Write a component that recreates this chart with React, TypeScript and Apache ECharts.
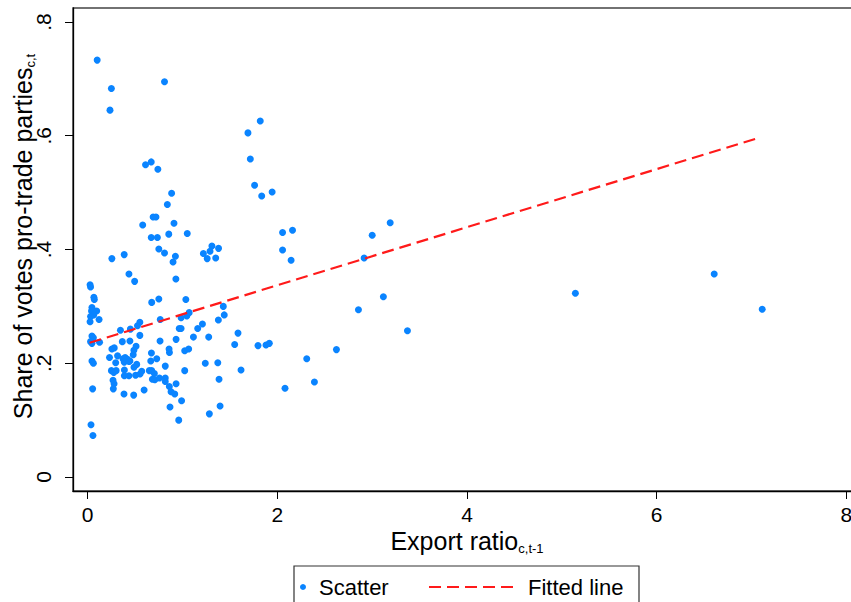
import React, { useEffect, useRef } from "react";
import * as echarts from "echarts";

// Scatter points: [export ratio, share of votes for pro-trade parties]
const scatterPoints: [number, number][] = [
  [0.10, 0.733], [0.25, 0.683], [0.235, 0.645], [0.81, 0.695], [1.69, 0.605],
  [1.82, 0.626], [1.715, 0.559], [0.61, 0.549], [0.67, 0.554], [0.74, 0.541],
  [1.76, 0.513], [1.835, 0.494], [1.945, 0.501], [1.05, 0.428], [1.22, 0.393],
  [1.31, 0.406], [1.29, 0.397], [1.38, 0.402], [1.26, 0.384], [1.35, 0.385],
  [2.055, 0.430], [2.16, 0.434], [2.055, 0.399], [2.145, 0.381], [2.915, 0.385],
  [3.0, 0.425], [3.19, 0.447], [0.885, 0.499], [0.84, 0.479], [0.69, 0.457],
  [0.72, 0.457], [0.58, 0.443], [0.91, 0.446], [0.67, 0.421], [0.735, 0.421],
  [0.855, 0.427], [0.75, 0.401], [0.81, 0.394], [0.925, 0.388], [0.90, 0.378],
  [0.93, 0.348], [0.255, 0.384], [0.385, 0.391], [0.435, 0.357], [0.495, 0.344],
  [0.025, 0.338], [0.03, 0.334], [0.065, 0.316], [0.07, 0.312], [0.045, 0.298],
  [0.04, 0.292], [0.095, 0.292], [0.063, 0.285], [0.03, 0.282], [0.12, 0.277],
  [0.025, 0.273], [0.675, 0.307], [0.75, 0.313], [1.035, 0.312], [1.43, 0.300],
  [1.44, 0.285], [1.378, 0.276], [0.765, 0.277], [0.985, 0.280], [1.045, 0.283],
  [1.07, 0.289], [1.21, 0.269], [1.16, 0.261], [0.965, 0.261], [0.985, 0.261],
  [0.55, 0.272], [0.525, 0.266], [0.45, 0.260], [0.345, 0.258], [0.045, 0.248],
  [0.06, 0.245], [0.045, 0.235], [0.03, 0.238], [0.125, 0.237], [0.55, 0.249],
  [0.365, 0.238], [0.445, 0.239], [0.255, 0.225], [0.28, 0.227], [0.23, 0.210],
  [0.315, 0.213], [0.295, 0.201], [0.372, 0.208], [0.395, 0.210], [0.42, 0.207],
  [0.445, 0.204], [0.385, 0.202], [0.435, 0.203], [0.48, 0.215], [0.487, 0.223],
  [0.51, 0.230], [0.045, 0.204], [0.06, 0.200], [0.25, 0.187], [0.275, 0.184],
  [0.30, 0.187], [0.387, 0.188], [0.387, 0.178], [0.435, 0.178], [0.505, 0.179],
  [0.488, 0.193], [0.517, 0.198], [0.552, 0.181], [0.57, 0.186], [0.267, 0.170],
  [0.278, 0.164], [0.27, 0.155], [0.052, 0.155], [0.383, 0.146], [0.485, 0.144],
  [0.595, 0.153], [0.672, 0.218], [0.728, 0.208], [0.665, 0.204], [0.818, 0.195],
  [0.65, 0.187], [0.675, 0.187], [0.703, 0.182], [0.682, 0.172], [0.708, 0.171],
  [0.757, 0.174], [0.818, 0.174], [0.818, 0.168], [0.932, 0.164], [0.861, 0.159],
  [0.879, 0.150], [0.918, 0.146], [0.99, 0.134], [0.868, 0.123], [0.96, 0.100],
  [0.763, 0.239], [0.932, 0.242], [0.858, 0.225], [0.862, 0.219], [1.023, 0.222],
  [1.065, 0.225], [1.115, 0.246], [1.276, 0.246], [1.24, 0.200], [1.372, 0.201],
  [1.385, 0.172], [1.023, 0.187], [1.283, 0.111], [1.396, 0.125], [1.585, 0.253],
  [1.55, 0.233], [1.617, 0.188], [1.796, 0.231], [0.035, 0.092], [0.055, 0.073],
  [1.88, 0.232], [1.915, 0.235], [2.31, 0.208], [2.623, 0.224], [2.391, 0.167],
  [2.081, 0.156], [2.855, 0.294], [3.118, 0.317], [3.372, 0.257], [6.607, 0.357],
  [5.143, 0.323], [7.113, 0.295],
];

// Fitted line end points
const fittedLine: [number, number][] = [
  [0.02, 0.236],
  [7.09, 0.597],
];

const xTicks = [0, 2, 4, 6, 8];
const xTickLabels = ["0", "2", "4", "6", "8"];
const yTicks = [0, 0.2, 0.4, 0.6, 0.8];
const yTickLabels = ["0", ".2", ".4", ".6", ".8"];

const seriesNames = ["Scatter", "Fitted line"];

const FONT = "'Liberation Sans', Arial, Helvetica, sans-serif";

const lookup = (ticks: number[], labels: string[], v: number) => {
  const i = ticks.findIndex((t) => Math.abs(t - v) < 1e-9);
  return i >= 0 ? labels[i] : "";
};

export default function App() {
  const ref = useRef<HTMLDivElement>(null);

  useEffect(() => {
    if (!ref.current) return;
    const chart = echarts.init(ref.current, undefined, { renderer: "svg" });

    const titleRich = {
      m: { fontSize: 25, fontFamily: FONT, color: "#000", lineHeight: 28 },
      s: {
        fontSize: 13,
        fontFamily: FONT,
        color: "#000",
        verticalAlign: "bottom",
        lineHeight: 4,
      },
    };

    chart.setOption({
      animation: false,
      backgroundColor: "#fff",
      grid: {
        left: 73,
        top: 8,
        width: 788,
        height: 483,
        outerBoundsMode: "none",
        containLabel: false,
        show: true,
        borderColor: "#444",
        borderWidth: 1.5,
        backgroundColor: "transparent",
      },
      xAxis: {
        type: "value",
        min: -0.155,
        max: 8.155,
        name: "{m|Export ratio}{s|c,t-1}",
        nameLocation: "middle",
        nameGap: 36,
        nameMoveOverlap: false,
        nameTextStyle: { rich: titleRich },
        axisLine: { show: true, onZero: false, lineStyle: { color: "#000", width: 1.3 } },
        axisTick: {
          show: true,
          length: 8,
          customValues: xTicks,
          lineStyle: { color: "#000", width: 1 },
        },
        axisLabel: {
          customValues: xTicks,
          fontSize: 21,
          fontFamily: FONT,
          color: "#000",
          margin: 13,
          formatter: (v: number) => lookup(xTicks, xTickLabels, v),
        },
        splitLine: { show: false },
      },
      yAxis: {
        type: "value",
        min: -0.0246,
        max: 0.8246,
        name: "{m|Share of votes pro-trade parties}{s|c,t}",
        nameLocation: "middle",
        nameGap: 36,
        nameMoveOverlap: false,
        nameTextStyle: { rich: titleRich, padding: [0, 0, 0, 26] },
        axisLine: { show: true, onZero: false, lineStyle: { color: "#000", width: 1.3 } },
        axisTick: {
          show: true,
          length: 8,
          customValues: yTicks,
          lineStyle: { color: "#000", width: 1 },
        },
        axisLabel: {
          customValues: yTicks,
          rotate: 90,
          fontSize: 21,
          fontFamily: FONT,
          color: "#000",
          margin: 19,
          formatter: (v: number) => lookup(yTicks, yTickLabels, v),
        },
        splitLine: { show: false },
      },
      legend: [
        {
          data: [seriesNames[0]],
          left: 300,
          top: 576,
          padding: 0,
          itemWidth: 6,
          itemHeight: 6,
          icon: "circle",
          textStyle: { fontSize: 22, fontFamily: FONT, color: "#000", padding: [0, 0, 0, 8] },
        },
        {
          data: [seriesNames[1]],
          left: 428,
          top: 576,
          padding: 0,
          itemWidth: 84,
          itemHeight: 10,
          itemStyle: { color: "rgba(0,0,0,0)", opacity: 0, borderWidth: 0 },
          textStyle: { fontSize: 22, fontFamily: FONT, color: "#000", padding: [0, 0, 0, 10] },
        },
      ],
      graphic: [
        {
          type: "rect",
          shape: { x: 294, y: 566, width: 345, height: 60 },
          style: { fill: "none", stroke: "#333", lineWidth: 1.2 },
          silent: true,
        },
      ],
      series: [
        {
          name: seriesNames[0],
          type: "scatter",
          data: scatterPoints,
          symbol: "circle",
          symbolSize: 7,
          itemStyle: { color: "#0a84ff", opacity: 1 },
        },
        {
          name: seriesNames[1],
          type: "line",
          data: fittedLine,
          symbol: "none",
          showSymbol: false,
          lineStyle: { color: "#ff1a1a", width: 2.2, type: [12, 6] },
          itemStyle: { color: "#ff1a1a" },
          z: 3,
        },
      ],
    });

    return () => chart.dispose();
  }, []);

  return (
    <div
      ref={ref}
      style={{ position: "fixed", left: 0, top: 0, width: 851, height: 602 }}
    />
  );
}
